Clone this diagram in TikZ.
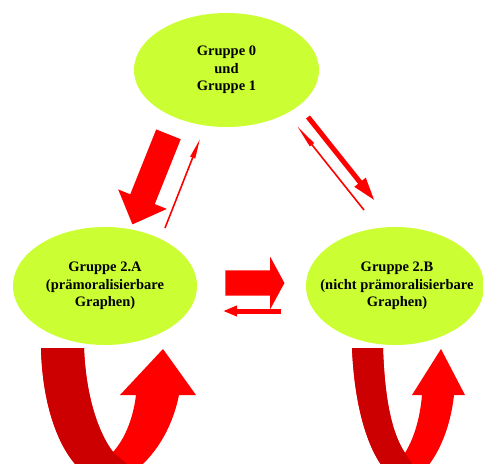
\documentclass[tikz,border=0pt]{standalone}
\usepackage{fontspec}
\setmainfont{Liberation Serif}
\usetikzlibrary{shapes.geometric,shapes.arrows,arrows.meta}
\definecolor{limegreen}{RGB}{204,255,51}
\definecolor{darkred}{RGB}{204,0,0}
\definecolor{brightred}{RGB}{255,0,0}
\begin{document}
\begin{tikzpicture}[x=1pt,y=-1pt,
  group/.style={ellipse, fill=limegreen, draw=none, inner sep=0pt},
  grouptext/.style={align=center, inner sep=0pt, font=\fontsize{14.5}{17.5}\selectfont\bfseries},
  fatarrow/.style={single arrow, fill=brightred, draw=none, inner xsep=0pt, outer sep=0pt},
  thinarrow/.style={draw=brightred, line width=1.6pt, -{Triangle[length=20pt,width=5pt]}},
  medarrow/.style={draw=brightred, line width=5pt, -{Triangle[length=24pt,width=13pt]}},
  backarrow/.style={draw=brightred, line width=5pt, -{Triangle[length=14pt,width=10pt]}},
]
\useasboundingbox (0,0) rectangle (483,464);
\clip (0,0) rectangle (483,464);

% groups
\node[group, minimum width=185pt, minimum height=114pt] (g01) at (226.5,70) {};
\node[grouptext] (t01) at (g01.center) {Gruppe 0\\und\\Gruppe 1};
\node[group, minimum width=184pt, minimum height=118pt] (g2a) at (105,286) {};
\node[grouptext] (t2a) at (g2a.center) {Gruppe 2.A\\(prämoralisierbare\\Graphen)};
\node[group, minimum width=178pt, minimum height=118pt] (g2b) at (395,286) {};
\node[grouptext] (t2b) at (397,286) {Gruppe 2.B\\(nicht prämoralisierbare\\Graphen)};

% fat arrows
\node[fatarrow, inner ysep=13pt, single arrow head extend=13pt, single arrow tip angle=88,
  minimum height=97pt, rotate=248.2] (a1) at (153,173) {};
\node[fatarrow, inner ysep=12.5pt, single arrow head extend=13.5pt, single arrow tip angle=123,
  minimum height=59pt] (a2) at (251.5,283) {};

% line arrows
\coordinate (u1) at (165,228);
\coordinate (u2) at (200,139);
\draw[thinarrow] (u1) -- (u2);
\coordinate (r1) at (308,117);
\coordinate (r2) at (375,201);
\draw[medarrow] (r1) -- (r2);
\coordinate (b1) at (364,210);
\coordinate (b2) at (297,126);
\draw[thinarrow, -{Triangle[length=24pt,width=5pt]}] (b1) -- (b2);
\coordinate (m1) at (281,311);
\coordinate (m2) at (223,311);
\draw[backarrow] (m1) -- (m2);

% left loop
\fill[brightred] (41,348) .. controls (43,430) and (75,482) .. (108,482)
  .. controls (130,482) and (168,450) .. (179,395) -- (196,395) -- (163,349) -- (120,395) -- (136,395)
  .. controls (133,420) and (124,440) .. (113,452) .. controls (100,435) and (86,400) .. (84,348) -- cycle;
\begin{scope}
\clip (0,340) -- (113,340) -- (113,452) -- (169,500) -- (0,500) -- cycle;
\fill[darkred] (41,348) .. controls (43,430) and (75,482) .. (108,482)
  .. controls (130,482) and (168,450) .. (179,395) -- (196,395) -- (163,349) -- (120,395) -- (136,395)
  .. controls (133,420) and (124,440) .. (113,452) .. controls (100,435) and (86,400) .. (84,348) -- cycle;
\end{scope}

% right loop
\fill[brightred] (352,348) .. controls (356,440) and (385,482) .. (405,482)
  .. controls (420,482) and (448,450) .. (454,395) -- (465,395) -- (441,349) -- (412,395) -- (422,395)
  .. controls (420,420) and (413,440) .. (405,453) .. controls (395,438) and (385,410) .. (383,348) -- cycle;
\begin{scope}
\clip (340,340) -- (405,340) -- (405,453) -- (435,500) -- (340,500) -- cycle;
\fill[darkred] (352,348) .. controls (356,440) and (385,482) .. (405,482)
  .. controls (420,482) and (448,450) .. (454,395) -- (465,395) -- (441,349) -- (412,395) -- (422,395)
  .. controls (420,420) and (413,440) .. (405,453) .. controls (395,438) and (385,410) .. (383,348) -- cycle;
\end{scope}
\end{tikzpicture}
\end{document}
